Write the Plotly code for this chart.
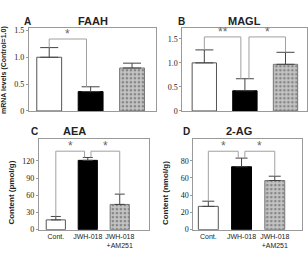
import plotly.graph_objects as go

# ---------------- data ----------------
groups = ["Cont.", "JWH-018", "JWH-018<br>+AM251"]

faah_vals = [1.0, 0.36, 0.80]
faah_err = [0.18, 0.09, 0.09]

magl_vals = [1.0, 0.42, 0.97]
magl_err = [0.27, 0.25, 0.25]

aea_vals = [17, 121, 44]
aea_err = [6, 5, 18]

ag_vals = [27, 73, 57]
ag_err = [6, 10, 5]

ab_ticks = [0, 0.5, 1.0, 1.5]
ab_ticktext = ["0", "0.5", "1.0", "1.5"]
c_ticks = [0, 30, 60, 90, 120]
d_ticks = [0, 20, 40, 60, 80]

# significance comparisons: (from, to, bracket level, label)
faah_sig = [(0, 1, 1.34, "*")]
magl_sig = [(0, 1, 1.54, "**"), (1, 2, 1.54, "*")]
aea_sig = [(0, 1, 137, "*"), (1, 2, 137, "*")]
ag_sig = [(0, 1, 91, "*"), (1, 2, 91, "*")]

# ---------------- style ----------------
W, H = 308, 257
SANS = "Liberation Sans, Arial, sans-serif"
SERIF = "Liberation Serif, Times New Roman, serif"
FRAME = "#9a9a9a"
BRACKET = "#a0a0a0"
TXT = "#222222"

bar_colors = ["#ffffff", "#000000", "#c4c4c4"]
bar_lines = ["#555555", "#000000", "#777777"]
pattern_shapes = ["", "", "."]


def px_x(p):
    return min(max(p / W, 0.0), 1.0)


def px_y(p):
    return min(max(1 - p / H, 0.0), 1.0)


panels = [
    # name, vals, err, sig, xdomain px, ydomain px, xrange, yrange, ticks, ticktext, capw, xlabels
    ("", faah_vals, faah_err, faah_sig, (29, 157), (27, 112), [-0.49, 2.59], [0, 1.54],
     ab_ticks, ab_ticktext, 9, False),
    ("2", magl_vals, magl_err, magl_sig, (183, 308), (27, 112), [-0.54, 2.53], [0, 1.72],
     ab_ticks, ab_ticktext, 9, False),
    ("3", aea_vals, aea_err, aea_sig, (39, 149), (141, 234), [-0.53, 2.9], [0, 158],
     c_ticks, [str(t) for t in c_ticks], 5, True),
    ("4", ag_vals, ag_err, ag_sig, (194, 303), (141, 234), [-0.45, 2.82], [0, 105],
     d_ticks, [str(t) for t in d_ticks], 6, True),
]

fig = go.Figure()
shapes = []
annotations = []

for name, vals, err, sig, xd, yd, xr, yr, tv, tt, capw, xlabels in panels:
    xa = "x" + name
    ya = "y" + name
    fig.add_trace(go.Bar(
        x=[0, 1, 2], y=vals, width=0.6,
        xaxis=xa, yaxis=ya,
        marker=dict(
            color=bar_colors,
            line=dict(color=bar_lines, width=1),
            pattern=dict(shape=pattern_shapes, fillmode="overlay",
                         fgcolor="#ffffff", size=4, solidity=0.35),
        ),
        error_y=dict(type="data", symmetric=False, array=err,
                     arrayminus=[0, 0, 0], color="#444444",
                     thickness=1, width=capw),
        showlegend=False, hoverinfo="skip",
    ))
    xkey = "xaxis" + name
    ykey = "yaxis" + name
    fig.layout[xkey] = dict(
        domain=[px_x(xd[0]), px_x(xd[1])], anchor=ya, range=xr,
        showline=True, mirror=True, linecolor=FRAME, linewidth=1,
        showgrid=False, zeroline=False,
        tickvals=[0, 1, 2] if xlabels else [],
        ticktext=groups if xlabels else [],
        ticks="", tickangle=0,
        tickfont=dict(family=SANS, size=7, color=TXT),
        fixedrange=True,
    )
    fig.layout[ykey] = dict(
        domain=[px_y(yd[1]), px_y(yd[0])], anchor=xa, range=yr,
        showline=True, mirror=True, linecolor=FRAME, linewidth=1,
        showgrid=False, zeroline=False,
        tickvals=tv, ticktext=tt, ticks="outside", ticklen=2,
        tickcolor=FRAME,
        tickfont=dict(family=SERIF, size=8, color=TXT),
        fixedrange=True,
    )
    # brackets
    for k, (i, j, lvl, lab) in enumerate(sig):
        xi = i + (0.1 if (i == 1 and k > 0) else 0)
        xj = j - (0.1 if (j == 1) else 0)
        ti = vals[i] + err[i]
        tj = vals[j] + err[j]
        shapes.append(dict(
            type="path", xref=xa, yref=ya,
            path=f"M {xi} {ti} L {xi} {lvl} L {xj} {lvl} L {xj} {tj}",
            line=dict(color=BRACKET, width=1),
        ))
        annotations.append(dict(
            x=(xi + xj) / 2, y=lvl, xref=xa, yref=ya, text=lab,
            showarrow=False, yanchor="bottom", yshift=-4,
            font=dict(family=SANS, size=12, color="#666666"),
        ))

# panel letters and titles (pixel positions converted to paper)
labels = [
    ("A", 28, 20, 10), ("FAAH", 93, 20, 11),
    ("B", 182, 20, 10), ("MAGL", 245, 20, 11),
    ("C", 35, 133, 10), ("AEA", 75, 133, 11),
    ("D", 187, 133, 10), ("2-AG", 240, 133, 11),
]
for t, x, y, s in labels:
    annotations.append(dict(
        x=px_x(x), y=px_y(y), xref="paper", yref="paper", text=f"<b>{t}</b>",
        showarrow=False, xanchor="center", yanchor="middle",
        font=dict(family=SANS, size=s, color=TXT),
    ))

# y-axis titles
ytitles = [
    ("mRNA levels (Control=1.0)", 4, 70, 7),
    ("Content (pmol/g)", 12, 196, 8),
    ("Content (nmol/g)", 166, 196, 8),
]
for t, x, y, s in ytitles:
    annotations.append(dict(
        x=px_x(x), y=px_y(y), xref="paper", yref="paper", text=f"<b>{t}</b>",
        showarrow=False, xanchor="center", yanchor="middle", textangle=-90,
        font=dict(family=SANS, size=s, color=TXT),
    ))

fig.update_layout(
    width=W, height=H,
    margin=dict(l=0, r=0, t=0, b=0),
    paper_bgcolor="white", plot_bgcolor="white",
    shapes=shapes, annotations=annotations,
    bargap=0.4,
)

fig.write_html("out.html", config=dict(displayModeBar=False))
